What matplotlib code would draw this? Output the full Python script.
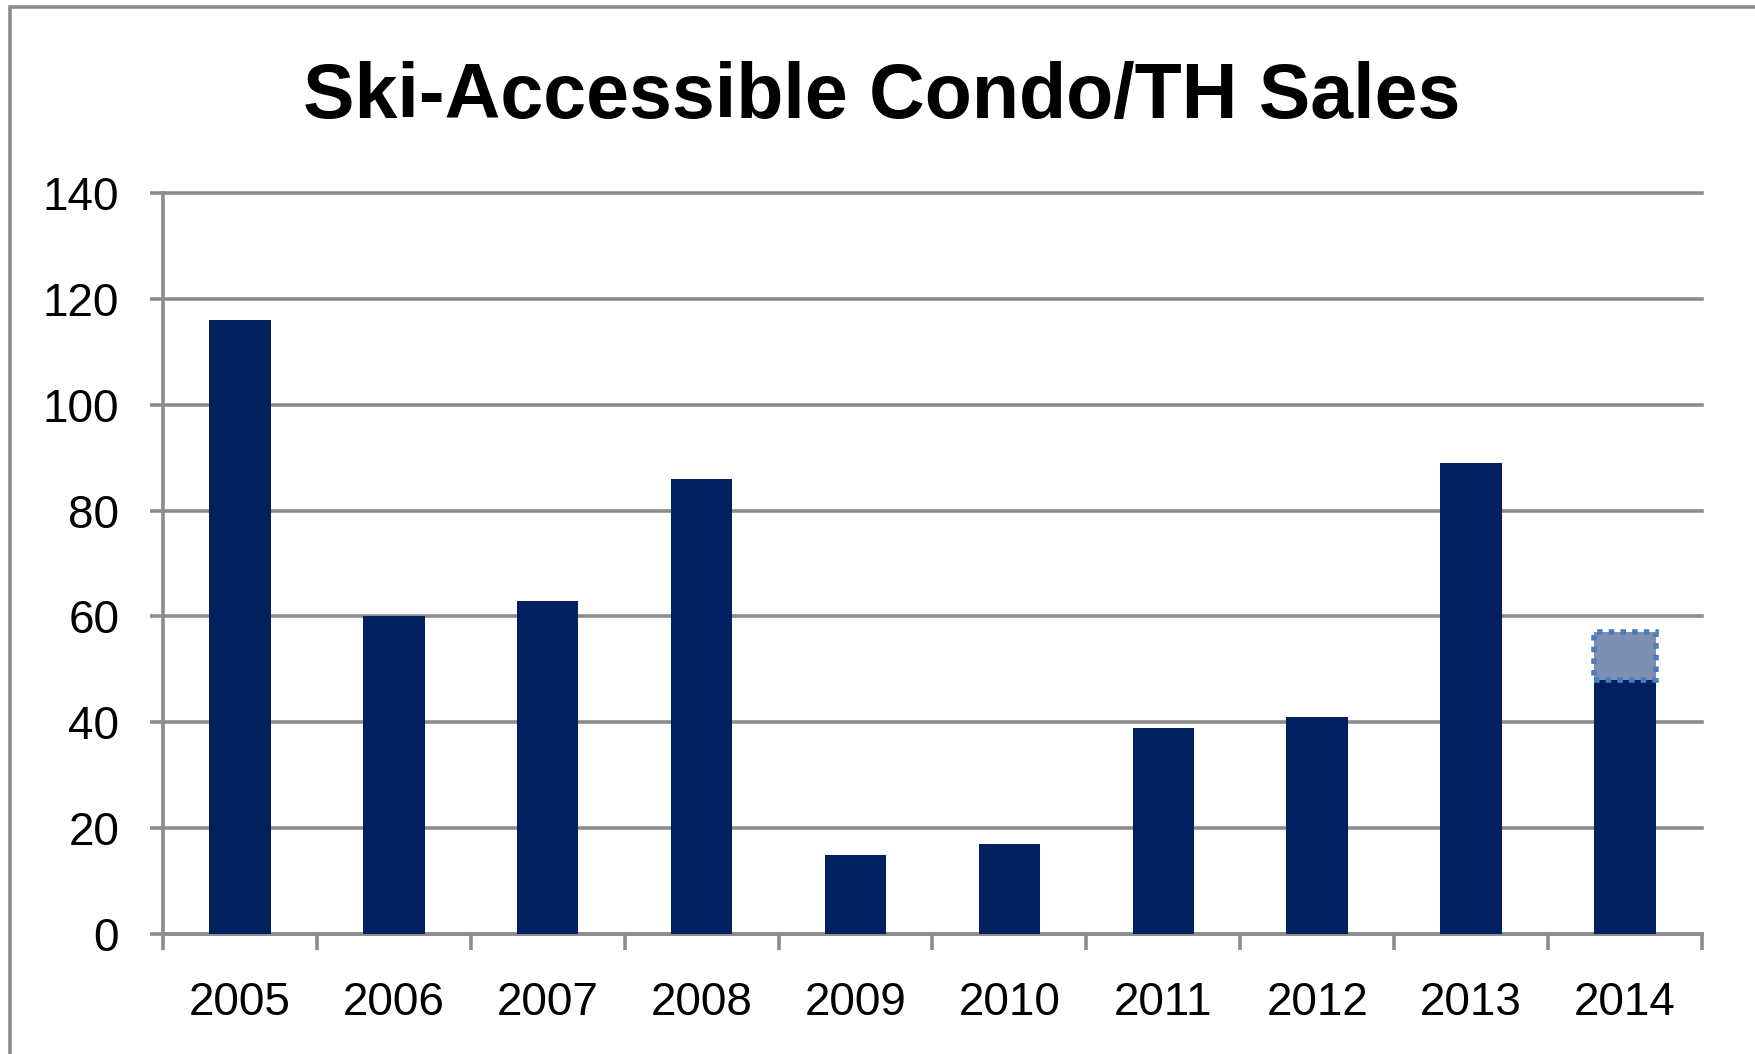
import matplotlib
matplotlib.use("Agg")
import matplotlib.pyplot as plt
from matplotlib.patches import Rectangle
import numpy as np

plt.rcParams['font.family'] = ['Liberation Sans', 'DejaVu Sans']

# yearly sales, 2014 has a pending portion stacked on top
years = ['2005', '2006', '2007', '2008', '2009', '2010', '2011', '2012', '2013', '2014']
sales = [116, 60, 63, 86, 15, 17, 39, 41, 89, 48]
pending = [0, 0, 0, 0, 0, 0, 0, 0, 0, 9]
yticks = [0, 20, 40, 60, 80, 100, 120, 140]

NAVY = '#002060'
GRID = '#8c8c8c'
LW = 2.6

fig = plt.figure(figsize=(17.56, 10.54), dpi=100)
ax = fig.add_axes([0.0928, 0.1139, 0.8764, 0.7030])

x = np.arange(len(years))
ax.bar(x, sales, width=0.40, color=NAVY, zorder=3)

# pending sales drawn only where nonzero
pend_x = [i for i, p in enumerate(pending) if p > 0]
ax.bar(pend_x, [pending[i] for i in pend_x], bottom=[sales[i] for i in pend_x],
       width=0.40, color='#7f8fb3', edgecolor='#4a7ebb', linewidth=4,
       linestyle=(0, (1, 1.1)), zorder=3)

ax.set_xlim(-0.5, len(years) - 0.5)
ax.set_ylim(0, 140)
ax.set_yticks(yticks)
ax.yaxis.grid(True, color=GRID, linewidth=LW, zorder=0)
for gl in ax.get_ygridlines():
    gl.set_clip_on(False)

ax.set_xticks(x)
ax.set_xticklabels(years)
ax.set_xticks(np.arange(-0.5, len(years)), minor=True)
ax.tick_params(axis='x', which='major', length=0, pad=34, labelsize=33)
ax.tick_params(axis='x', which='minor', length=11.5, width=LW, color=GRID)
ax.tick_params(axis='y', length=9.5, width=LW, color=GRID, pad=22, labelsize=33)

for side in ['top', 'right']:
    ax.spines[side].set_visible(False)
for side in ['left', 'bottom']:
    ax.spines[side].set_color(GRID)
    ax.spines[side].set_linewidth(LW)

fig.text(0.502, 0.888, 'Ski-Accessible Condo/TH Sales', ha='center', va='baseline',
         fontsize=55.5, fontweight='bold')

# chart area frame
fig.patches.append(Rectangle((10 / 1756, -0.05), 1.2, 1 - 7 / 1054 + 0.05,
                             transform=fig.transFigure, fill=False,
                             edgecolor=GRID, linewidth=LW))

fig.savefig('out.png', dpi=100)
